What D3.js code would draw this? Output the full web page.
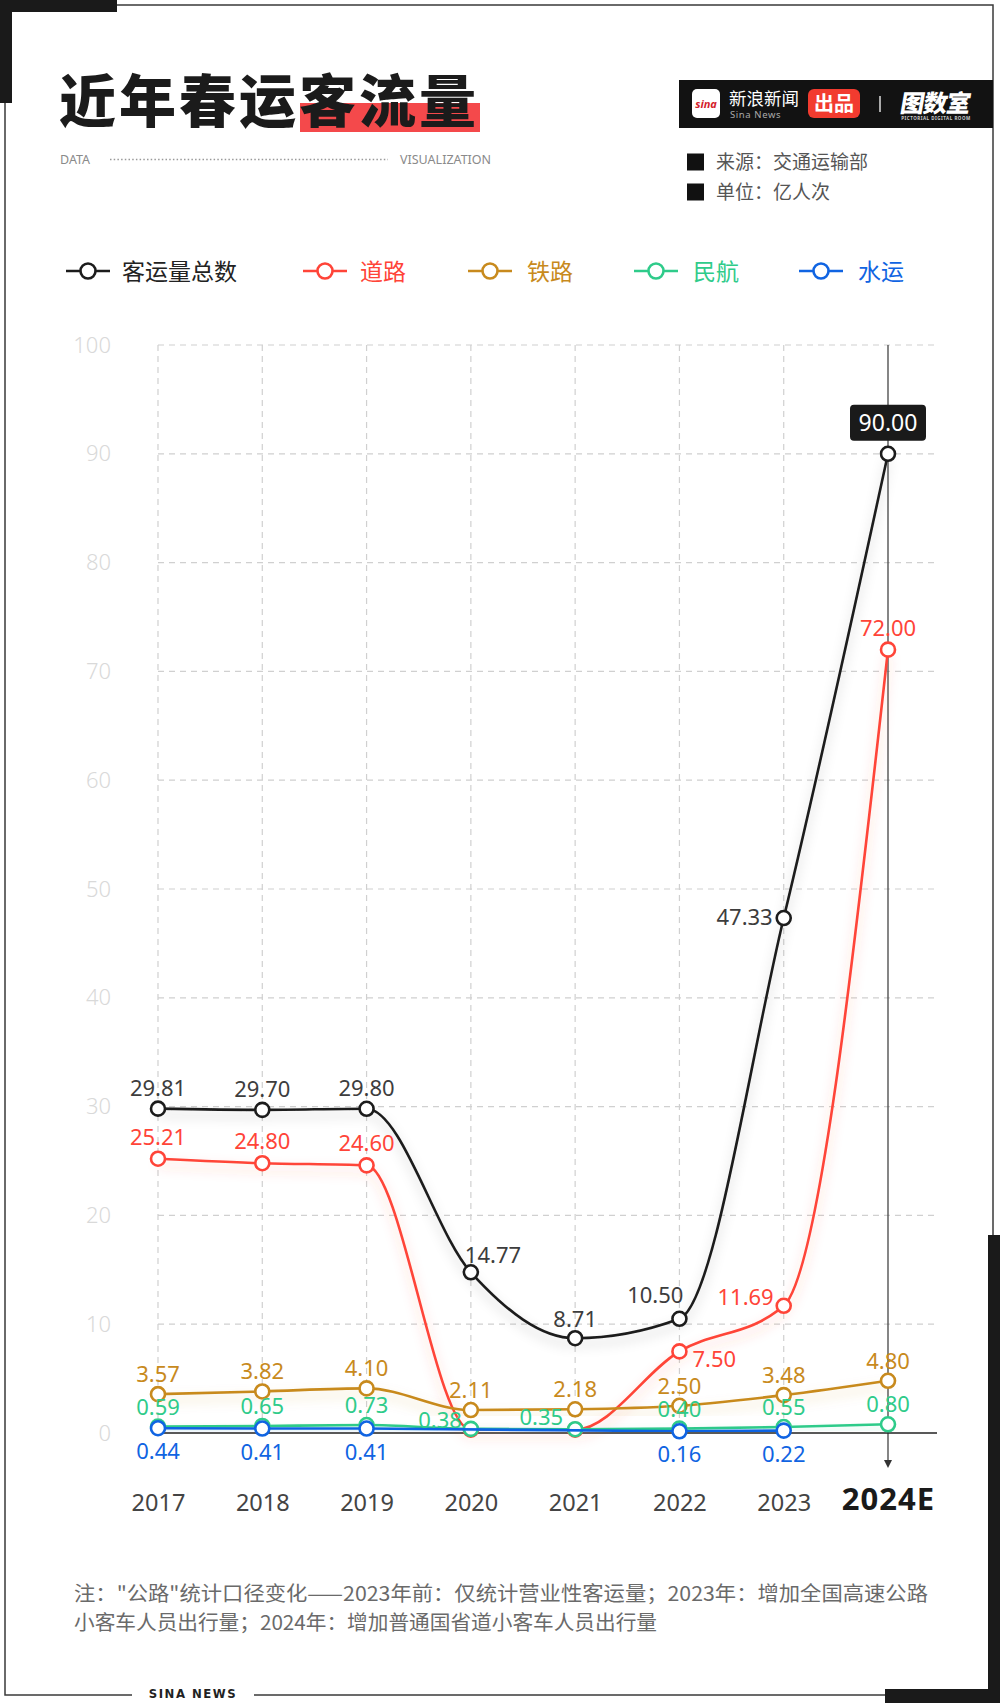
<!DOCTYPE html>
<html><head><meta charset="utf-8">
<script src="https://cdn.jsdelivr.net/npm/d3@7"></script>
<style>
html,body{margin:0;padding:0;background:#fff;}
svg{display:block;font-family:"Noto Sans","Noto Sans CJK SC",sans-serif;}
</style></head>
<body><svg id="c" width="1000" height="1703"></svg>
<script>
// ---------- data ----------
const years = ["2017","2018","2019","2020","2021","2022","2023","2024E"];
const yTicks = [0,10,20,30,40,50,60,70,80,90,100];
const total = [29.81, 29.70, 29.80, 14.77, 8.71, 10.50, 47.33, 90.00];
const road  = [25.21, 24.80, 24.60, 0.3, 0.3, 7.50, 11.69, 72.00];
const rail  = [3.57, 3.82, 4.10, 2.11, 2.18, 2.50, 3.48, 4.80];
const air   = [0.59, 0.65, 0.73, 0.38, 0.35, 0.40, 0.55, 0.80];
const water = [0.44, 0.41, 0.41, null, null, 0.16, 0.22, null];
const seriesNames = ["客运量总数","道路","铁路","民航","水运"];

// ---------- style ----------
const colors = ["#1c1c1c","#ff4438","#c88a1d","#2fcb8a","#1064e2"];
const labelColors = ["#3d3d3d","#ff4438","#c88a1d","#2fcb8a","#1064e2"];
const seriesData = [total, road, rail, air, water];
// label placement overrides: key "series-index"
const labelPos = {
  "0-0":{dy:-13},"0-1":{dy:-13},"0-2":{dy:-13},
  "0-3":{anchor:"start",dx:-6,dy:-9},
  "0-4":{dy:-11},
  "0-5":{anchor:"end",dx:4,dy:-16},
  "0-6":{anchor:"end",dx:-11,dy:7},
  "0-7":{box:true},
  "1-0":{dy:-14},"1-1":{dy:-14},"1-2":{dy:-14},
  "1-3":{hide:true},"1-4":{hide:true},
  "1-5":{anchor:"start",dx:13,dy:16},
  "1-6":{anchor:"end",dx:-10,dy:-1},
  "1-7":{dy:-14},
  "3-3":{anchor:"end",dx:-9,dy:-1},
  "3-4":{anchor:"end",dx:-12,dy:-4}
};

const svg = d3.select("#c");

// ---------- frame ----------
svg.append("rect").attr("x",5).attr("y",5).attr("width",988).attr("height",1690)
  .attr("fill","none").attr("stroke","#3a3a3a").attr("stroke-width",1.5);
svg.append("rect").attr("x",0).attr("y",0).attr("width",117).attr("height",12).attr("fill","#1a1a1a");
svg.append("rect").attr("x",0).attr("y",0).attr("width",12).attr("height",103).attr("fill","#1a1a1a");
svg.append("rect").attr("x",988).attr("y",1235).attr("width",12).attr("height",468).attr("fill","#1a1a1a");
svg.append("rect").attr("x",885).attr("y",1689).attr("width",115).attr("height",14).attr("fill","#1a1a1a");
svg.append("rect").attr("x",132).attr("y",1688).attr("width",122).attr("height",15).attr("fill","#fff");
svg.append("text").attr("x",193).attr("y",1698).attr("text-anchor","middle")
  .attr("font-family","'Liberation Sans Narrow','DejaVu Sans Condensed',sans-serif")
  .attr("font-weight",700).attr("font-size",13).attr("letter-spacing",1.5).attr("fill","#222").text("SINA NEWS");

// ---------- title ----------
svg.append("rect").attr("x",300).attr("y",103).attr("width",180).attr("height",29).attr("fill","#f4494b");
svg.append("text").attr("x",59).attr("y",122).attr("font-family","'Noto Sans CJK SC'")
  .attr("font-weight",900).attr("font-size",57).attr("letter-spacing",3).attr("fill","#1b1b1b").text("近年春运客流量");
svg.append("text").attr("x",60).attr("y",164).attr("font-size",12.5).attr("fill","#8a8a8a").text("DATA");
svg.append("line").attr("x1",110).attr("x2",388).attr("y1",159.5).attr("y2",159.5)
  .attr("stroke","#999").attr("stroke-width",1.5).attr("stroke-dasharray","1.5,2.2");
svg.append("text").attr("x",400).attr("y",164).attr("font-size",12.5).attr("fill","#8a8a8a").text("VISUALIZATION");

// ---------- logo ----------
const lg = svg.append("g");
lg.append("rect").attr("x",679).attr("y",80).attr("width",314).attr("height",48).attr("fill","#121212");
lg.append("rect").attr("x",692).attr("y",89).attr("width",28).attr("height",29).attr("rx",5).attr("fill","#fff");
lg.append("text").attr("x",706).attr("y",108).attr("text-anchor","middle").attr("font-size",11)
  .attr("font-weight",700).attr("font-style","italic").attr("fill","#d4202a").text("sina");
lg.append("text").attr("x",729).attr("y",105).attr("font-family","'Noto Sans CJK SC'").attr("font-size",17.5)
  .attr("fill","#fff").text("新浪新闻");
lg.append("text").attr("x",730).attr("y",118).attr("font-size",9.5).attr("fill","#aaa").attr("letter-spacing",0.6).text("Sina News");
lg.append("rect").attr("x",808).attr("y",89).attr("width",52).attr("height",29).attr("rx",6).attr("fill","#f23b2f");
lg.append("text").attr("x",834).attr("y",111).attr("text-anchor","middle").attr("font-family","'Noto Sans CJK SC'")
  .attr("font-weight",700).attr("font-size",20).attr("fill","#fff").text("出品");
lg.append("line").attr("x1",880).attr("x2",880).attr("y1",96).attr("y2",112).attr("stroke","#ddd").attr("stroke-width",1.5);
lg.append("text").attr("x",900).attr("y",112).attr("transform","skewX(-10) translate(19,0)")
  .attr("font-family","'Noto Sans CJK SC'").attr("font-weight",900).attr("font-size",24).attr("letter-spacing",-1)
  .attr("fill","#fff").text("图数室");
lg.append("text").attr("x",936).attr("y",120).attr("text-anchor","middle").attr("font-size",4.5)
  .attr("font-weight",700).attr("fill","#ccc").attr("letter-spacing",0.5).text("PICTORIAL DIGITAL ROOM");

// ---------- source / unit ----------
[["来源：交通运输部",162],["单位：亿人次",192]].forEach(([t,y])=>{
  svg.append("rect").attr("x",687).attr("y",y-8.5).attr("width",17).attr("height",17).attr("fill","#111");
  svg.append("text").attr("x",716).attr("y",y+7).attr("font-family","'Noto Sans CJK SC'")
    .attr("font-size",19).attr("fill","#555").text(t);
});

// ---------- legend ----------
const legendX = [66,303,468,634,799];
const legendTextX = [122,360,527,693,858];
seriesNames.forEach((n,i)=>{
  const g = svg.append("g");
  g.append("line").attr("x1",legendX[i]).attr("x2",legendX[i]+44).attr("y1",271).attr("y2",271)
    .attr("stroke",colors[i]).attr("stroke-width",2.6);
  g.append("circle").attr("cx",legendX[i]+22).attr("cy",271).attr("r",7.5)
    .attr("fill","#fff").attr("stroke",colors[i]).attr("stroke-width",2.6);
  g.append("text").attr("x",legendTextX[i]).attr("y",279.5).attr("font-family","'Noto Sans CJK SC'")
    .attr("font-size",23).attr("fill",i===0?"#222":colors[i]).text(n);
});

// ---------- scales ----------
const x = d3.scalePoint().domain(years).range([158,888]);
const y = d3.scaleLinear().domain([0,100]).range([1433,345]);
const plotRight = 937;

// gridlines
const grid = svg.append("g");
grid.selectAll(".hg").data(yTicks.filter(d=>d>0)).join("line")
  .attr("x1",158).attr("x2",plotRight).attr("y1",d=>y(d)).attr("y2",d=>y(d))
  .attr("stroke","#d0d0d0").attr("stroke-width",1.2).attr("stroke-dasharray","6,5");
grid.selectAll(".vg").data(years.slice(0,-1)).join("line")
  .attr("x1",d=>x(d)).attr("x2",d=>x(d)).attr("y1",y(100)).attr("y2",y(0))
  .attr("stroke","#d0d0d0").attr("stroke-width",1.2).attr("stroke-dasharray","6,5");

// y axis labels
const yAxis = d3.axisLeft(y).tickValues(yTicks).tickSize(0).tickPadding(0);
const ya = svg.append("g").attr("transform","translate(111,0)").call(yAxis);
ya.select(".domain").remove();
ya.selectAll("text").attr("font-family","'Noto Sans',sans-serif").attr("font-weight",300)
  .attr("font-size",22).attr("fill","#d9d9d9");

// 2024 marker line with arrow
const lastYear = years[years.length-1];
svg.append("line").attr("x1",x(lastYear)).attr("x2",x(lastYear)).attr("y1",y(100)).attr("y2",1462)
  .attr("stroke","#444").attr("stroke-width",1.3);
svg.append("path").attr("d",`M${x(lastYear)-4},1460 L${x(lastYear)+4},1460 L${x(lastYear)},1468 Z`).attr("fill","#333");

// baseline axis
svg.append("line").attr("x1",158).attr("x2",plotRight).attr("y1",y(0)).attr("y2",y(0))
  .attr("stroke","#222").attr("stroke-width",1.5);

// x axis labels
const xAxis = d3.axisBottom(x).tickSize(0).tickPadding(0);
const xa = svg.append("g").attr("transform","translate(0,1493)").call(xAxis);
xa.select(".domain").remove();
xa.selectAll("text").attr("font-family","'Noto Sans',sans-serif").attr("font-size",23.5).attr("fill","#444")
  .attr("dy","0.75em")
  .filter(d=>d===lastYear).attr("font-size",31).attr("font-weight",700).attr("letter-spacing",1)
  .attr("fill","#1a1a1a").attr("dy","0.55em");

// ---------- shadows ----------
const defs = svg.append("defs");
colors.forEach((c,i)=>{
  const f = defs.append("filter").attr("id","sh"+i).attr("x","-20%").attr("y","-20%").attr("width","140%").attr("height","140%");
  f.append("feDropShadow").attr("dx",0).attr("dy",6).attr("stdDeviation",6)
    .attr("flood-color", i===0 ? "#000" : c).attr("flood-opacity", i===0 ? 0.22 : 0.3);
});

// ---------- series ----------
const line = d3.line().x(d=>x(d.k)).y(d=>y(d.v)).curve(d3.curveMonotoneX);
const labelsLayer = [];
seriesData.forEach((arr,si)=>{
  const pts = years.map((k,i)=>({k,v:arr[i],i})).filter(d=>d.v!==null);
  const g = svg.append("g");
  g.append("path").datum(pts).attr("d",line).attr("fill","none")
    .attr("stroke",colors[si]).attr("stroke-width",2.6).attr("filter",`url(#sh${si})`);
  g.selectAll("circle").data(pts).join("circle")
    .attr("cx",d=>x(d.k)).attr("cy",d=>y(d.v)).attr("r",7)
    .attr("fill","#fff").attr("stroke",colors[si]).attr("stroke-width",2.6);
  pts.forEach(d=>labelsLayer.push({si,d}));
});

// ---------- labels ----------
const lab = svg.append("g");
labelsLayer.forEach(({si,d})=>{
  const key = si+"-"+d.i;
  const o = labelPos[key] || {};
  if (o.hide) return;
  const px = x(d.k), py = y(d.v);
  const txt = d3.format(".2f")(d.v);
  if (o.box) {
    lab.append("rect").attr("x",px-38).attr("y",py-49).attr("width",76).attr("height",36).attr("rx",4).attr("fill","#1a1a1a");
    lab.append("text").attr("x",px).attr("y",py-23).attr("text-anchor","middle")
      .attr("font-size",23).attr("fill","#fff").text(txt);
    return;
  }
  const dy = o.dy !== undefined ? o.dy : (si===4 ? 31 : -12);
  lab.append("text").attr("x",px+(o.dx||0)).attr("y",py+dy)
    .attr("text-anchor",o.anchor||"middle").attr("font-size",22).attr("fill",labelColors[si]).text(txt);
});

// ---------- footnote ----------
svg.append("text").attr("x",74).attr("y",1601).attr("font-family","'Noto Sans CJK SC'").attr("font-size",20)
  .attr("fill","#6a6a6a").attr("textLength",854).attr("lengthAdjust","spacingAndGlyphs")
  .text("注：\"公路\"统计口径变化——2023年前：仅统计营业性客运量；2023年：增加全国高速公路");
svg.append("text").attr("x",74).attr("y",1630).attr("font-family","'Noto Sans CJK SC'").attr("font-size",20)
  .attr("fill","#6a6a6a").attr("textLength",583).attr("lengthAdjust","spacingAndGlyphs")
  .text("小客车人员出行量；2024年：增加普通国省道小客车人员出行量");
</script></body></html>
